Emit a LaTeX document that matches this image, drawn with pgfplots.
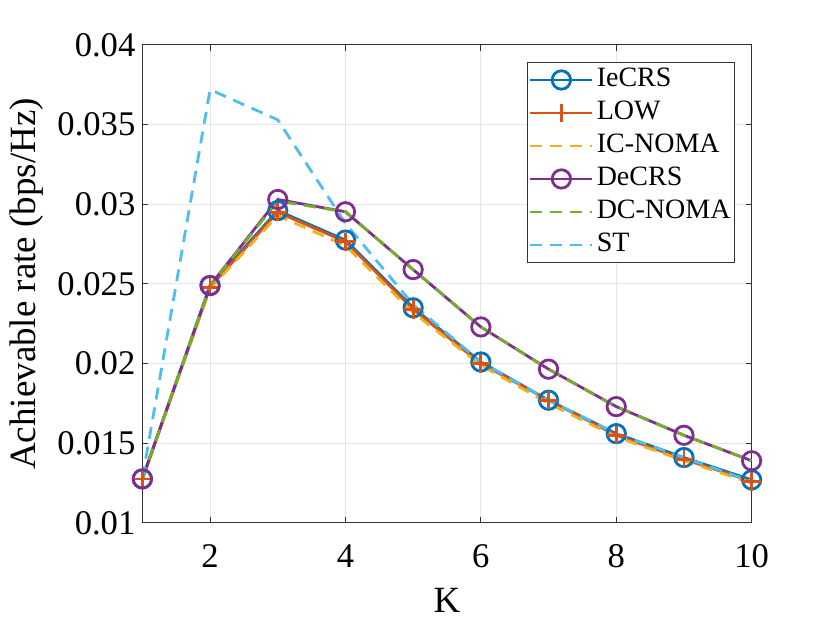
\documentclass[border=0pt]{standalone}
\usepackage{fontspec}
\setmainfont{Liberation Serif}
\usepackage{pgfplots}
\pgfplotsset{compat=1.18}
\usetikzlibrary{calc}
\definecolor{mblue}{rgb}{0,0.447,0.741}
\definecolor{morange}{rgb}{0.85,0.325,0.098}
\definecolor{myellow}{rgb}{0.929,0.694,0.125}
\definecolor{mpurple}{rgb}{0.494,0.184,0.556}
\definecolor{mgreen}{rgb}{0.466,0.674,0.188}
\definecolor{mcyan}{rgb}{0.301,0.745,0.933}
\begin{document}
\begin{tikzpicture}
\begin{axis}[
  scale only axis,
  width=304.7pt, height=239pt,
  xmin=1, xmax=10, ymin=0.01, ymax=0.04,
  xtick={2,4,6,8,10},
  ytick={0.01,0.015,0.02,0.025,0.03,0.035,0.04},
  scaled y ticks=false,
  yticklabel style={/pgf/number format/fixed,/pgf/number format/precision=3},
  /pgf/number format/assume math mode=true,
  tick label style={font=\fontsize{17.3}{20}\selectfont},
  xticklabel style={anchor=base, yshift=-22.5pt},
  label style={font=\fontsize{18.5}{22}\selectfont},
  xlabel={K}, ylabel={Achievable rate (bps/Hz)},
  xlabel style={at={(rel axis cs:0.5,0)}, anchor=base, yshift=-45pt},
  grid=major,
  major grid style={gray!20, line width=0.5pt},
  tick align=inside, tickpos=both,
  major tick length=3pt,
  axis line style={black!80, line width=0.5pt},
  tick style={black!80, line width=0.5pt},
  legend cell align=left,
  legend style={at={(1,1)}, anchor=north east, xshift=-8.3pt, yshift=-8.5pt,
    font=\fontsize{14}{17}\selectfont, draw=black!80, line width=0.5pt,
    inner sep=0.5pt,
    nodes={inner sep=1.5pt, text height=10pt, text depth=3.5pt}},
  legend image code/.code={\draw[mark repeat=2,mark phase=2,#1] plot coordinates {(0pt,0pt) (15.5pt,0pt) (31pt,0pt)};},
  every axis plot/.append style={line width=1.4pt},
]
\addplot[mblue, mark=o, mark size=4.6pt, mark options={solid, line width=1.4pt}] coordinates {
(1,0.01276) (2,0.0249) (3,0.0296) (4,0.02775) (5,0.0235) (6,0.0201) (7,0.0177) (8,0.0156) (9,0.0141) (10,0.0127)};
\addlegendentry{IeCRS}
\addplot[morange, mark=+, mark size=4.6pt, mark options={solid, line width=1.4pt}] coordinates {
(1,0.01276) (2,0.0248) (3,0.0295) (4,0.02765) (5,0.0234) (6,0.0200) (7,0.0177) (8,0.0155) (9,0.0140) (10,0.0126)};
\addlegendentry{LOW}
\addplot[myellow, dash pattern=on 6pt off 4pt] coordinates {
(1,0.01276) (2,0.0247) (3,0.0293) (4,0.0274) (5,0.0232) (6,0.0199) (7,0.0175) (8,0.0154) (9,0.0139) (10,0.0125)};
\addlegendentry{IC-NOMA}
\addplot[mpurple, mark=o, mark size=4.6pt, mark options={solid, line width=1.4pt}] coordinates {
(1,0.01276) (2,0.0249) (3,0.0303) (4,0.02953) (5,0.0259) (6,0.0223) (7,0.01965) (8,0.0173) (9,0.0155) (10,0.0139)};
\addlegendentry{DeCRS}
\addplot[mgreen, dash pattern=on 6pt off 4pt] coordinates {
(1,0.01276) (2,0.0249) (3,0.0302) (4,0.02953) (5,0.0259) (6,0.0223) (7,0.01965) (8,0.0173) (9,0.0155) (10,0.0139)};
\addlegendentry{DC-NOMA}
\addplot[mcyan, dash pattern=on 6pt off 4pt] coordinates {
(1,0.0128) (2,0.0372) (3,0.0353) (4,0.0288) (5,0.0237) (6,0.0201) (7,0.0177) (8,0.0156) (9,0.0141) (10,0.0126)};
\addlegendentry{ST}
\end{axis}
\pgfresetboundingbox
\path ($(current axis.south west)+(-71.2pt,-50pt)$) rectangle ($(current axis.north east)+(39.2pt,22.5pt)$);
\end{tikzpicture}
\end{document}
